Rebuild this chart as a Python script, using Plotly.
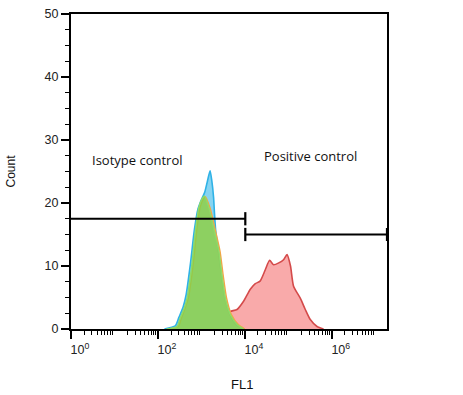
import plotly.graph_objects as go

# ---- data (log10 FL1 position, count) ----
green_log = [2.20, 2.44, 2.51, 2.60, 2.67, 2.78, 2.86, 2.94, 3.01, 3.07, 3.17, 3.28, 3.40, 3.47, 3.55, 3.665, 3.82, 3.97]
green_cnt = [0.0, 0.4, 1.7, 3.2, 4.9, 10.2, 15.5, 19.3, 20.6, 21.1, 19.3, 16.1, 12.4, 8.6, 4.9, 2.3, 0.7, 0.0]

blue_log = [2.15, 2.40, 2.48, 2.58, 2.65, 2.75, 2.84, 2.92, 3.00, 3.08, 3.14, 3.20, 3.24, 3.28, 3.30, 3.33, 3.40, 3.47, 3.55, 3.665, 3.82, 3.97]
blue_cnt = [0.0, 0.5, 1.8, 3.5, 5.5, 10.5, 15.8, 19.0, 20.5, 21.8, 23.5, 25.1, 23.5, 20.9, 18.5, 15.5, 12.0, 8.3, 4.7, 2.2, 0.6, 0.0]

orange_log = [2.25, 2.47, 2.54, 2.70, 2.81, 2.89, 2.97, 3.04, 3.09, 3.20, 3.31, 3.43, 3.50, 3.58, 3.69, 3.85, 4.00]
orange_cnt = [0.0, 0.4, 1.7, 4.9, 10.2, 15.5, 19.3, 20.6, 21.0, 19.2, 16.0, 12.3, 8.6, 4.9, 2.3, 0.7, 0.0]

red_log = [2.97, 3.05, 3.20, 3.35, 3.43, 3.55, 3.665, 3.82, 3.97, 4.125, 4.24, 4.35, 4.47, 4.57, 4.66, 4.78, 4.89, 4.97, 5.05, 5.12, 5.275, 5.39, 5.505, 5.66, 5.81]
red_cnt = [0.0, 0.2, 0.4, 1.2, 1.7, 2.2, 2.8, 3.1, 4.4, 6.3, 7.2, 7.6, 9.4, 10.9, 10.2, 10.5, 11.0, 11.8, 10.0, 6.8, 4.9, 3.1, 1.5, 0.4, 0.0]

# gates: (start log, end log, count level)
gate_iso = (0.0, 4.01, 17.5)
gate_pos = (4.01, 7.27, 15.0)
gate_tick_half = 1.05

x_range_log = [0, 7.27]
y_range = [0, 50]
y_major = [0, 10, 20, 30, 40, 50]
x_label_decades = [0, 2, 4, 6]
x_labels = ["10<sup>0</sup>", "10<sup>2</sup>", "10<sup>4</sup>", "10<sup>6</sup>"]
x_odd_decades = [1, 3, 5, 7]


def lin(vals):
    return [10 ** v for v in vals]


fig = go.Figure()

fig.add_trace(go.Scatter(
    x=lin(red_log), y=red_cnt, mode="lines", fill="tozeroy",
    line=dict(color="#D44A4A", width=1.6, shape="spline", smoothing=0.6),
    fillcolor="rgba(246,130,130,0.68)", hoverinfo="skip"))

fig.add_trace(go.Scatter(
    x=lin(blue_log), y=blue_cnt, mode="lines", fill="tozeroy",
    line=dict(color="#2FB2E6", width=1.6, shape="spline", smoothing=0.6),
    fillcolor="#86D4F2", hoverinfo="skip"))

fig.add_trace(go.Scatter(
    x=lin(orange_log), y=orange_cnt, mode="lines", fill="tozeroy",
    line=dict(color="#F2A646", width=1.4, shape="spline", smoothing=0.6),
    fillcolor="rgba(240,190,120,0.6)", hoverinfo="skip"))

fig.add_trace(go.Scatter(
    x=lin(green_log), y=green_cnt, mode="lines", fill="tozeroy",
    line=dict(color="#8FDA66", width=1.4, shape="spline", smoothing=0.6),
    fillcolor="rgba(122,210,72,0.74)", hoverinfo="skip"))

# gate lines
for (a, b, lvl), ticks in ((gate_iso, [gate_iso[1]]), (gate_pos, [gate_pos[0], gate_pos[1]])):
    gx = [10 ** a, 10 ** b]
    gy = [lvl, lvl]
    for t in ticks:
        gx += [None, 10 ** t, 10 ** t]
        gy += [None, lvl - gate_tick_half, lvl + gate_tick_half]
    fig.add_trace(go.Scatter(x=gx, y=gy, mode="lines",
                             line=dict(color="black", width=2.2),
                             hoverinfo="skip"))

minor_vals = [m * 10 ** d for d in range(0, 8) for m in range(2, 10) if m * 10 ** d <= 10 ** 7.27]

tickfont = dict(family="Liberation Sans, Arial, sans-serif", size=12.5, color="#222")

fig.update_layout(
    width=463, height=395,
    margin=dict(l=71, r=76, t=14, b=66, autoexpand=False),
    paper_bgcolor="white", plot_bgcolor="white",
    showlegend=False,
    xaxis=dict(
        type="log", range=x_range_log, automargin=False,
        tickmode="array", tickvals=lin(x_label_decades), ticktext=x_labels,
        ticks="outside", ticklen=8, tickwidth=2, tickcolor="black",
        ticklabelshift=9,
        minor=dict(tickmode="array", tickvals=minor_vals, ticks="outside",
                   ticklen=4, tickwidth=1.3, tickcolor="black", showgrid=False),
        showline=True, linewidth=2, linecolor="black", mirror=True,
        showgrid=False, zeroline=False, tickfont=tickfont,
    ),
    xaxis2=dict(
        type="log", range=x_range_log, automargin=False,
        overlaying="x", anchor="y", side="bottom",
        tickmode="array", tickvals=lin(x_odd_decades),
        ticks="outside", ticklen=8, tickwidth=2, tickcolor="black",
        showticklabels=False, showline=False, showgrid=False, zeroline=False,
    ),
    yaxis=dict(
        range=y_range, automargin=False,
        tickmode="array", tickvals=y_major,
        ticks="outside", ticklen=8, tickwidth=2, tickcolor="black",
        minor=dict(dtick=2.5, ticks="outside", ticklen=4, tickwidth=1.3,
                   tickcolor="black", showgrid=False),
        showline=True, linewidth=2, linecolor="black", mirror=True,
        showgrid=False, zeroline=False, tickfont=tickfont,
    ),
    annotations=[
        dict(text="Count", xref="paper", yref="paper", x=-0.193, y=0.5,
             xanchor="center", yanchor="middle",
             textangle=-90, showarrow=False,
             font=dict(family="Liberation Sans, Arial, sans-serif", size=12, color="#111")),
        dict(text="FL1", xref="paper", yref="paper", x=0.541, y=-0.177,
             xanchor="center", yanchor="middle", showarrow=False,
             font=dict(family="Liberation Sans, Arial, sans-serif", size=13, color="#111")),
        dict(text="Isotype control", xref="paper", yref="paper", x=0.209, y=0.535,
             xanchor="center", yanchor="middle", showarrow=False,
             font=dict(family="Open Sans, sans-serif", size=13, color="#111")),
        dict(text="Positive control", xref="paper", yref="paper", x=0.759, y=0.548,
             xanchor="center", yanchor="middle", showarrow=False,
             font=dict(family="Open Sans, sans-serif", size=13, color="#111")),
    ],
)

fig.write_html("out.html", config={"displayModeBar": False},
               post_script="document.body.style.margin='0px';")
